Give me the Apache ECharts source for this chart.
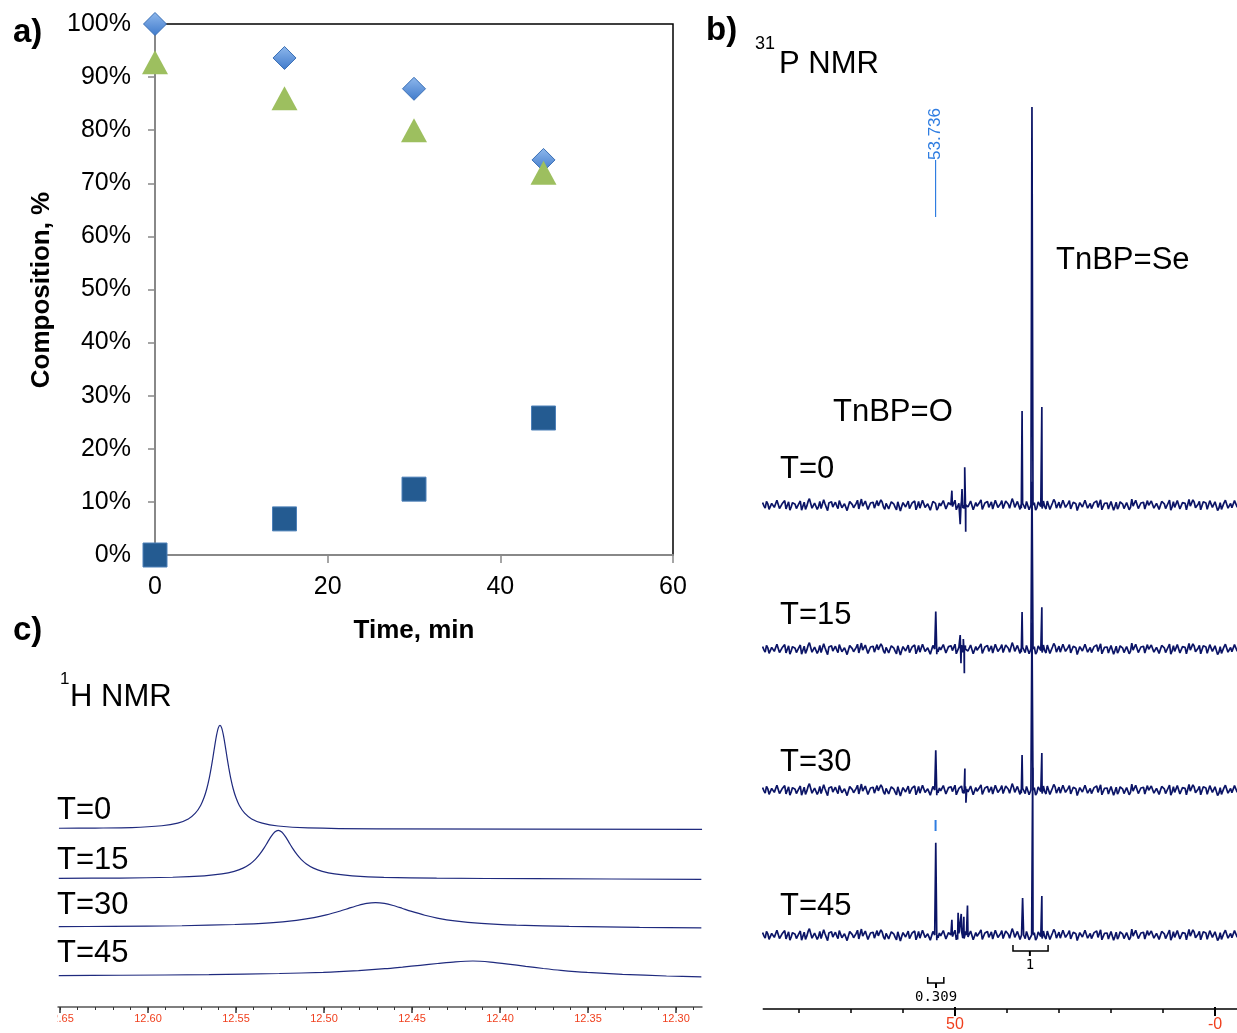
<!DOCTYPE html>
<html><head><meta charset="utf-8">
<script src="https://cdn.jsdelivr.net/npm/echarts@6/dist/echarts.min.js"></script>
<style>html,body{margin:0;padding:0;background:#fff}#c{width:1237px;height:1033px}</style>
</head><body><div id="c"></div>
<script>
// ================= DATA =================
// panel a) composition vs time
const timeMin = [0, 15, 30, 45];
const diamondPct = [100, 93.6, 87.8, 74.4];
const trianglePct = [92.8, 86.0, 80.0, 72.0];
const squarePct = [0, 6.8, 12.4, 25.8];
const timeAxis = { min: 0, max: 60, step: 20 };
const pctAxis = { min: 0, max: 100, step: 10 };

// panel b) 31P NMR (ppm, relative intensity; T=0 main peak = 100)
const p31Range = { min: -4.2308, max: 86.923 };
const p31Ticks = { min: 0, max: 80, step: 10 };
const p31LabelTicks = { min: 0, max: 50, step: 50 };
const p31NoiseStartPpm = 87;
const p31NoiseStepPpm = 0.5;
const p31Noise = [
 0.6,-0.8,0.3,-1.2,0.9,-0.4,1.4,-0.7,0.2,-1.0,
 0.8,-0.5,1.1,-0.9,0.4,-1.3,0.7,-0.3,1.6,-0.8,
 0.5,-1.1,0.9,-0.6,0.3,-1.4,1.0,-0.5,0.7,-0.9,
 1.2,-0.4,0.6,-1.2,0.8,-0.7,0.4,-1.0,1.5,-0.6,
 0.9,-1.3,0.5,-0.8,1.1,-0.4,0.7,-1.1,0.3,-0.9,
 1.3,-0.6,0.8,-1.5,0.6,-0.5,1.0,-0.8,0.4,-1.2,
 0.9,-0.7,1.4,-0.5,0.6,-1.0,0.8,-1.3,0.5,-0.6,
 1.1,-0.9,0.7,-0.4,1.2,-1.1,0.3,-0.8,0.9,-0.5,
 1.0,-1.2,0.6,-0.7,1.3,-0.9,0.4,-0.6,0.8,-1.4,
 0.7,-0.5,1.1,-1.0,0.5,-0.8,1.6,-0.6,0.9,-1.1,
 0.4,-0.9,1.2,-0.7,0.6,-1.3,0.8,-0.4,1.0,-1.0,
 0.5,-0.7,1.4,-0.8,0.7,-1.2,0.3,-0.6,1.1,-0.9,
 0.9,-1.4,0.6,-0.5,1.2,-0.8,0.4,-1.1,0.8,-0.6,
 1.3,-0.7,0.5,-1.0,0.9,-1.3,0.7,-0.4,1.0,-0.9,
 0.6,-1.2,1.5,-0.6,0.8,-0.8,0.4,-1.0,1.1,-0.5,
 0.7,-1.1,0.9,-0.7,1.2,-0.9,0.5,-1.3,0.8,-0.6,
 1.0,-0.8,0.6,-1.2,1.4,-0.5,0.7,-1.0,0.9,-0.7,
 0.5,-1.1,1.1,-0.6,0.8,-1.4,0.6,-0.9,1.2,-0.8,
 0.4,-1.0,0.9,-0.5
];
// noise samples read half-way between the ones above
const p31NoiseMid = [
-0.2,0.9,-1.1,0.4,-0.6,1.2,-0.9,0.3,1.1,-0.5,
-1.3,0.6,0.2,-0.8,1.0,-0.3,-1.1,0.9,0.4,-1.2,
0.7,-0.4,-0.9,1.3,-0.6,0.5,0.8,-1.0,-0.2,1.1,
-0.7,0.3,-1.4,0.9,0.1,-0.6,1.2,-0.8,-0.3,1.0,
-1.1,0.5,0.7,-0.9,-0.2,1.3,-0.5,0.4,-1.0,0.8,
0.2,-1.2,0.6,-0.4,1.1,-0.7,-0.9,0.5,1.0,-0.3,
-0.8,1.2,-0.6,0.3,-1.3,0.9,0.4,-0.7,-0.2,1.1,
-1.0,0.6,0.8,-0.5,-1.2,0.4,1.0,-0.9,0.2,-0.6,
1.3,-0.8,-0.3,0.7,-1.1,0.5,0.9,-0.4,-1.0,1.2,
-0.6,0.3,-0.9,1.0,0.2,-1.3,0.7,-0.5,1.1,-0.8,
-0.2,0.9,-1.2,0.4,0.6,-0.7,1.3,-0.9,-0.4,1.0,
-1.1,0.5,0.8,-0.3,-0.8,1.2,-0.6,0.4,-1.0,0.7,
0.3,-1.3,0.9,-0.5,1.1,-0.2,-0.9,0.6,1.0,-0.7,
-1.2,0.4,0.5,-0.8,1.3,-0.4,-1.0,0.8,0.2,-1.1,
0.9,-0.6,-0.3,1.2,-0.9,0.5,0.7,-1.2,-0.1,1.0,
-0.8,0.4,-1.1,0.9,0.3,-0.7,1.2,-0.5,-0.6,1.1,
-1.0,0.6,0.4,-0.9,-0.3,1.3,-0.7,0.2,-1.2,0.8,
0.5,-1.0,0.7,-0.4,1.0,-0.8,-1.1,0.6,0.9,-0.3,
-0.7,1.1,-0.5
];
const p31PeakHalfWidthPpm = 0.2;
const p31PeaksT0  = [[35.2,100],[37.1,23.6],[33.3,24.6],[50.6,3.6],[49.0,-4.8],[48.65,4.0],[48.13,9.5],[47.94,-6.7]];
const p31PeaksT15 = [[35.2,42],[37.1,9.3],[33.3,10.5],[53.7,9.4],[49.0,3.5],[48.85,-3.6],[48.4,2.5],[48.2,-6.1]];
const p31PeaksT30 = [[35.2,42],[37.1,8.8],[33.3,9.3],[53.7,10.0],[48.1,5.4],[47.9,-3.2]];
const p31PeaksT45 = [[35.06,42],[37.0,9.3],[33.3,9.8],[53.7,23.2],[50.6,3.8],[49.4,5.6],[48.8,5.3],[48.3,4.6],[47.6,7.4]];
const p31PeakLabelPpm = 53.736;
const p31Integrals = [{ from: 38.85, to: 32.1, mid: 35.6, label: '1' }, { from: 55.25, to: 52.15, mid: 53.65, label: '0.309' }];
const p31TraceLabels = ['T=0', 'T=15', 'T=30', 'T=45'];

// panel c) 1H NMR (ppm, relative intensity; T=0 peak = 100)
const h1T0 = [[12.6506,1.0],[12.6300,1.2],[12.6091,1.6],[12.5921,3.4],[12.5831,6.0],[12.5771,10],[12.5731,15.5],[12.5701,22.9],[12.5681,30.8],[12.5666,39],[12.5651,50],[12.5641,59],[12.5631,69.2],[12.5621,80],[12.5611,90],[12.5601,97.3],[12.5591,100],[12.5581,97.3],[12.5571,90],[12.5561,80],[12.5551,69.2],[12.5541,59],[12.5531,50],[12.5516,39],[12.5501,30.8],[12.5481,22.9],[12.5451,15.5],[12.5411,10],[12.5351,5.9],[12.5261,3.2],[12.5091,1.4],[12.4700,0.5],[12.2852,0]];
const h1T15 = [[12.6507,0.4],[12.6160,0.6],[12.5860,1.4],[12.5680,2.8],[12.5580,4.6],[12.5510,7.1],[12.5460,10.2],[12.5420,14.2],[12.5390,18.6],[12.5366,23.3],[12.5340,29.6],[12.5320,35.2],[12.5300,40.7],[12.5280,44.9],[12.5260,46.5],[12.5240,44.9],[12.5220,40.7],[12.5200,35.2],[12.5180,29.6],[12.5154,23.3],[12.5130,18.6],[12.5100,14.2],[12.5060,10.2],[12.5010,7.1],[12.4940,4.6],[12.4840,2.8],[12.4660,1.3],[12.4360,0.5],[12.3800,0],[12.2856,-0.6]];
const h1T30 = [[12.6507,0.6],[12.6207,0.9],[12.5807,1.5],[12.5507,2.7],[12.5307,4.3],[12.5157,6.7],[12.5057,9.3],[12.4987,11.9],[12.4907,15.7],[12.4857,18.4],[12.4807,21.0],[12.4757,23.0],[12.4707,23.7],[12.4657,23.0],[12.4607,21.0],[12.4557,18.3],[12.4507,15.5],[12.4427,11.6],[12.4357,8.9],[12.4257,6.2],[12.4107,3.8],[12.3907,2.1],[12.3607,0.8],[12.3207,0.0],[12.2856,-0.6]];
const h1T45 = [[12.6507,0.3],[12.6154,0.7],[12.5654,1.3],[12.5254,2.4],[12.5004,3.5],[12.4804,5.2],[12.4654,7.0],[12.4554,8.6],[12.4454,10.3],[12.4354,12.0],[12.4254,13.6],[12.4154,14.4],[12.4054,13.4],[12.3954,11.5],[12.3854,9.3],[12.3754,7.2],[12.3654,5.4],[12.3504,3.4],[12.3304,1.6],[12.3054,0.0],[12.2856,-0.8]];
const h1Range = { min: 12.28, max: 12.66 };
const h1MinorTicks = { min: 12.28, max: 12.66, step: 0.01 };
const h1MajorTicks = { min: 12.30, max: 12.65, step: 0.05 };
const h1TraceLabels = ['T=0', 'T=15', 'T=30', 'T=45'];

// ================= LAYOUT / STYLE =================
const FONT = '"Liberation Sans", Arial, sans-serif';
const NAVY = '#0b1466';
const RED = '#f0401e';
const bBase = [505, 649, 790, 935], bH = 398;
const cBase = [829.3, 878.7, 927.3, 976], cH = 104;
const bLabelY = [469, 615, 762, 906];
const cLabelY = [810, 860, 905, 953];

function p31Trace(peaks) {
  const pts = p31Noise.map((v, i) => [p31NoiseStartPpm - i * p31NoiseStepPpm, v]);
  p31NoiseMid.forEach((v, i) => pts.push([p31NoiseStartPpm - (i + 0.5) * p31NoiseStepPpm, v]));
  peaks.forEach(([p, h]) => { pts.push([p + p31PeakHalfWidthPpm, 0], [p, h], [p - p31PeakHalfWidthPpm, 0]); });
  pts.sort((a, b) => b[0] - a[0]);
  return pts;
}

const grids = [], xAxes = [], yAxes = [], series = [];
function addGrid(box, xa, ya) {
  const i = grids.length;
  grids.push(box);
  xAxes.push(Object.assign({ gridIndex: i, type: 'value', splitLine: { show: false } }, xa));
  yAxes.push(Object.assign({ gridIndex: i, type: 'value', min: 0, max: 1, show: false, splitLine: { show: false } }, ya || {}));
  return i;
}

// a)
addGrid({ left: 155, top: 24, width: 518, height: 531, show: true, borderColor: '#000', borderWidth: 1.5, backgroundColor: 'transparent' },
  { min: timeAxis.min, max: timeAxis.max, interval: timeAxis.step,
    axisLine: { onZero: false, lineStyle: { color: '#888', width: 2 } },
    axisTick: { length: 8, lineStyle: { color: '#888', width: 1.5 } },
    axisLabel: { fontSize: 25, color: '#000', margin: 20, fontFamily: FONT } },
  { show: true, min: pctAxis.min, max: pctAxis.max, interval: pctAxis.step,
    axisLine: { show: true, onZero: false, lineStyle: { color: '#888', width: 2 } },
    axisTick: { show: true, length: 7, lineStyle: { color: '#888', width: 1.5 } },
    axisLabel: { fontSize: 25, color: '#000', margin: 24, fontFamily: FONT, formatter: v => v + '%' } });
const diamondGrad = new echarts.graphic.LinearGradient(0, 0, 0, 1, [{ offset: 0, color: '#8fb8ec' }, { offset: 1, color: '#3f7acb' }]);
series.push({ type: 'scatter', xAxisIndex: 0, yAxisIndex: 0, clip: false, z: 3, symbol: 'diamond', symbolSize: [23, 23],
  itemStyle: { color: diamondGrad, borderColor: '#3a6fb5', borderWidth: 1, opacity: 1 }, data: timeMin.map((t, i) => [t, diamondPct[i]]) });
series.push({ type: 'scatter', xAxisIndex: 0, yAxisIndex: 0, clip: false, z: 4, symbol: 'triangle', symbolSize: [26, 24],
  itemStyle: { color: '#9dbf5f', opacity: 1 }, data: timeMin.map((t, i) => [t, trianglePct[i]]) });
series.push({ type: 'scatter', xAxisIndex: 0, yAxisIndex: 0, clip: false, z: 5, symbol: 'rect', symbolSize: [24, 24],
  itemStyle: { color: '#245b91', borderColor: '#4d80b8', borderWidth: 1, opacity: 1 }, data: timeMin.map((t, i) => [t, squarePct[i]]) });

// b) traces (grids 1-4)
[p31PeaksT0, p31PeaksT15, p31PeaksT30, p31PeaksT45].forEach((pk, k) => {
  const gi = addGrid({ left: 763, top: bBase[k] - bH, width: 474, height: bH },
    { min: p31Range.min, max: p31Range.max, inverse: true, show: false },
    { min: 0, max: 100 });
  series.push({ type: 'line', xAxisIndex: gi, yAxisIndex: gi, clip: false, showSymbol: false, symbol: 'none', z: 2,
    lineStyle: { color: NAVY, width: 1.7 }, data: p31Trace(pk) });
});
// b) axis line (5), minor ticks (6), labelled ticks (7)
addGrid({ left: 763, top: 900, width: 474, height: 109 },
  { min: p31Range.min, max: p31Range.max, inverse: true,
    axisLine: { show: true, onZero: false, lineStyle: { color: '#000', width: 1.5 } },
    axisTick: { show: false }, axisLabel: { show: false } });
addGrid({ left: 799, top: 900, width: 416, height: 109 },
  { min: p31Ticks.min, max: p31Ticks.max, interval: p31Ticks.step, inverse: true,
    axisLine: { show: false, onZero: false },
    axisTick: { show: true, length: 4, lineStyle: { color: '#000', width: 1.5 } },
    axisLabel: { show: false } });
addGrid({ left: 955, top: 900, width: 260, height: 109 },
  { min: p31LabelTicks.min, max: p31LabelTicks.max, interval: p31LabelTicks.step, inverse: true,
    axisLine: { show: false, onZero: false },
    axisTick: { show: true, length: 9, lineStyle: { color: '#000', width: 2 } },
    axisLabel: { color: RED, fontSize: 16, margin: 10, fontFamily: FONT, formatter: v => (v === 0 ? '-0' : String(v)) } });

// c) traces (8-11)
[h1T0, h1T15, h1T30, h1T45].forEach((d, k) => {
  const gi = addGrid({ left: 42.4, top: cBase[k] - cH, width: 668.8, height: cH },
    { min: h1Range.min, max: h1Range.max, inverse: true, show: false },
    { min: 0, max: 100 });
  series.push({ type: 'line', xAxisIndex: gi, yAxisIndex: gi, clip: false, showSymbol: false, symbol: 'none', smooth: 0.25,
    lineStyle: { color: '#1f2a7e', width: 1.2 }, data: d });
});
// c) axis minor (12) + major (13)
addGrid({ left: 42.4, top: 900, width: 668.8, height: 107 },
  { min: h1MinorTicks.min, max: h1MinorTicks.max, interval: h1MinorTicks.step, inverse: true,
    axisLine: { show: true, onZero: false, lineStyle: { color: '#555', width: 1.5 } },
    axisTick: { show: true, length: 3, lineStyle: { color: '#333', width: 1 } },
    axisLabel: { show: false } });
addGrid({ left: 60, top: 900, width: 616, height: 107 },
  { min: h1MajorTicks.min, max: h1MajorTicks.max, interval: h1MajorTicks.step, inverse: true,
    axisLine: { show: false, onZero: false },
    axisTick: { show: true, length: 6, lineStyle: { color: '#333', width: 1.5 } },
    axisLabel: { color: RED, fontSize: 11, margin: 6, fontFamily: FONT, formatter: v => v.toFixed(2) } });

const chart = echarts.init(document.getElementById('c'), null, { renderer: 'canvas', width: 1237, height: 1033 });
chart.setOption({ animation: false, backgroundColor: '#fff', grid: grids, xAxis: xAxes, yAxis: yAxes, series: series });

// ================= TEXT / ANNOTATIONS =================
function txt(text, x, y, size, opts) {
  opts = opts || {};
  return { type: 'text', x: x, y: y, rotation: opts.rot || 0, z: 50,
    style: { text: text, fontSize: size, fontFamily: opts.family || FONT, fontWeight: opts.bold ? 'bold' : 'normal',
      fill: opts.color || '#000', align: opts.align || 'left', verticalAlign: 'middle' } };
}
const px = (axis, v) => chart.convertToPixel({ xAxisIndex: axis }, v);
const g = [];
g.push(txt('a)', 13, 33, 33, { bold: true }));
g.push(txt('b)', 706, 31, 33, { bold: true }));
g.push(txt('c)', 13, 631, 33, { bold: true }));
g.push(txt('Composition, %', 42, 290, 26, { bold: true, rot: Math.PI / 2, align: 'center' }));
g.push(txt('Time, min', 414, 631, 26, { bold: true, align: 'center' }));
g.push(txt('31', 755, 44, 18));
g.push(txt('P NMR', 779, 64, 31));
g.push(txt('TnBP=Se', 1056, 260, 31));
g.push(txt('TnBP=O', 833, 412, 31));
p31TraceLabels.forEach((t, k) => g.push(txt(t, 780, bLabelY[k], 31)));
g.push(txt('1', 60, 679, 17));
g.push(txt('H NMR', 70, 697, 31));
h1TraceLabels.forEach((t, k) => g.push(txt(t, 57, cLabelY[k], 31)));

// peak label 53.736
const xl = px(1, p31PeakLabelPpm);
g.push(txt(p31PeakLabelPpm.toFixed(3), xl, 160, 17, { rot: Math.PI / 2, color: '#2f7de1' }));
g.push({ type: 'line', z: 50, shape: { x1: xl, y1: 160, x2: xl, y2: 217 }, style: { stroke: '#2f7de1', lineWidth: 1.2 } });
g.push({ type: 'line', z: 50, shape: { x1: xl, y1: 820, x2: xl, y2: 831 }, style: { stroke: '#2f7de1', lineWidth: 2 } });

// integral brackets
const intY = [951, 983];
p31Integrals.forEach((it, k) => {
  const x1 = px(4, it.from), x2 = px(4, it.to), xm = px(4, it.mid), y = intY[k];
  g.push({ type: 'polyline', z: 50, shape: { points: [[x1, y - 6], [x1, y], [x2, y], [x2, y - 6]] }, style: { stroke: '#000', lineWidth: 1.5, fill: null } });
  g.push({ type: 'line', z: 50, shape: { x1: xm, y1: y, x2: xm, y2: y + 5 }, style: { stroke: '#000', lineWidth: 2 } });
  g.push(txt(it.label, xm, y + 14, 14, { align: 'center', family: '"DejaVu Sans Mono", monospace' }));
});

// trim the 1H axis to the reference's extent
g.push({ type: 'rect', z: 100, shape: { x: 0, y: 998, width: 57.5, height: 35 }, style: { fill: '#fff' } });
g.push({ type: 'rect', z: 100, shape: { x: 702.5, y: 998, width: 60, height: 35 }, style: { fill: '#fff' } });

chart.setOption({ graphic: { elements: g } });
</script>
</body></html>
